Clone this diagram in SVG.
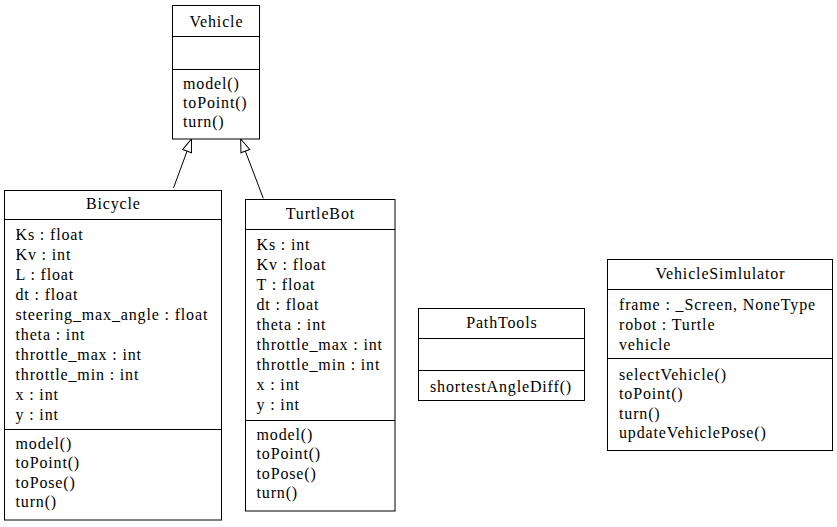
<svg xmlns="http://www.w3.org/2000/svg" width="837" height="527" viewBox="0 0 837 527">
<style>
rect, line.d { fill: #ffffff; stroke: #000000; stroke-width: 1; }
text { font-family: "Liberation Serif", "Times New Roman", serif; font-size: 16px; letter-spacing: 0.85px; fill: #000000; }
.c { text-anchor: middle; }
.edge { stroke: #000000; stroke-width: 1; fill: none; marker-end: url(#inh); }
</style>
<defs>
<marker id="inh" markerUnits="userSpaceOnUse" orient="auto" refX="13" refY="0" markerWidth="14" markerHeight="12" viewBox="0 -6 14 12" overflow="visible">
<path d="M0,-4.7 L13,0 L0,4.7 Z" fill="#ffffff" stroke="#000000" stroke-width="1"/>
</marker>
</defs>
<rect x="0" y="0" width="837" height="527" style="stroke:none;fill:#ffffff"/>
<g id="edges">
<line class="edge" x1="173.5" y1="188" x2="191.5" y2="139"/>
<line class="edge" x1="263.3" y1="198.3" x2="240.7" y2="139"/>
</g>
<g id="Vehicle">
<rect x="172.5" y="5.5" width="87" height="133.5"/>
<line class="d" x1="172.5" y1="36.5" x2="259.5" y2="36.5"/>
<line class="d" x1="172.5" y1="69.5" x2="259.5" y2="69.5"/>
<text class="c" x="216.4" y="26.5">Vehicle</text>
<text x="183" y="88.5">model()</text>
<text x="183" y="107.8">toPoint()</text>
<text x="183" y="127.1">turn()</text>
</g>
<g id="Bicycle">
<rect x="4.5" y="190.5" width="217" height="329.5"/>
<line class="d" x1="4.5" y1="219.5" x2="221.5" y2="219.5"/>
<line class="d" x1="4.5" y1="429.5" x2="221.5" y2="429.5"/>
<text class="c" x="113.4" y="208.5">Bicycle</text>
<text x="15.5" y="240">Ks : float</text>
<text x="15.5" y="260">Kv : int</text>
<text x="15.5" y="280">L : float</text>
<text x="15.5" y="300">dt : float</text>
<text x="15.5" y="320">steering_max_angle : float</text>
<text x="15.5" y="340">theta : int</text>
<text x="15.5" y="360">throttle_max : int</text>
<text x="15.5" y="380">throttle_min : int</text>
<text x="15.5" y="400">x : int</text>
<text x="15.5" y="420">y : int</text>
<text x="15.5" y="449">model()</text>
<text x="15.5" y="468.3">toPoint()</text>
<text x="15.5" y="487.6">toPose()</text>
<text x="15.5" y="507">turn()</text>
</g>
<g id="TurtleBot">
<rect x="245.5" y="199.5" width="149.5" height="311.5"/>
<line class="d" x1="245.5" y1="229.5" x2="395" y2="229.5"/>
<line class="d" x1="245.5" y1="420.5" x2="395" y2="420.5"/>
<text class="c" x="320.4" y="218.5">TurtleBot</text>
<text x="256.5" y="250">Ks : int</text>
<text x="256.5" y="270">Kv : float</text>
<text x="256.5" y="290">T : float</text>
<text x="256.5" y="310">dt : float</text>
<text x="256.5" y="330">theta : int</text>
<text x="256.5" y="350">throttle_max : int</text>
<text x="256.5" y="370">throttle_min : int</text>
<text x="256.5" y="390">x : int</text>
<text x="256.5" y="410">y : int</text>
<text x="256.5" y="440">model()</text>
<text x="256.5" y="459.3">toPoint()</text>
<text x="256.5" y="478.6">toPose()</text>
<text x="256.5" y="498">turn()</text>
</g>
<g id="PathTools">
<rect x="418.5" y="308.5" width="166" height="92"/>
<line class="d" x1="418.5" y1="338.5" x2="584.5" y2="338.5"/>
<line class="d" x1="418.5" y1="370.5" x2="584.5" y2="370.5"/>
<text class="c" x="501.9" y="328">PathTools</text>
<text x="430" y="391.5">shortestAngleDiff()</text>
</g>
<g id="VehicleSimulator">
<rect x="607.5" y="259.5" width="225" height="191"/>
<line class="d" x1="607.5" y1="289.5" x2="832.5" y2="289.5"/>
<line class="d" x1="607.5" y1="358.5" x2="832.5" y2="358.5"/>
<text class="c" x="720.4" y="278.5">VehicleSimlulator</text>
<text x="619" y="310">frame : _Screen, NoneType</text>
<text x="619" y="330">robot : Turtle</text>
<text x="619" y="350">vehicle</text>
<text x="619" y="380">selectVehicle()</text>
<text x="619" y="399.3">toPoint()</text>
<text x="619" y="418.6">turn()</text>
<text x="619" y="438">updateVehiclePose()</text>
</g>
</svg>
